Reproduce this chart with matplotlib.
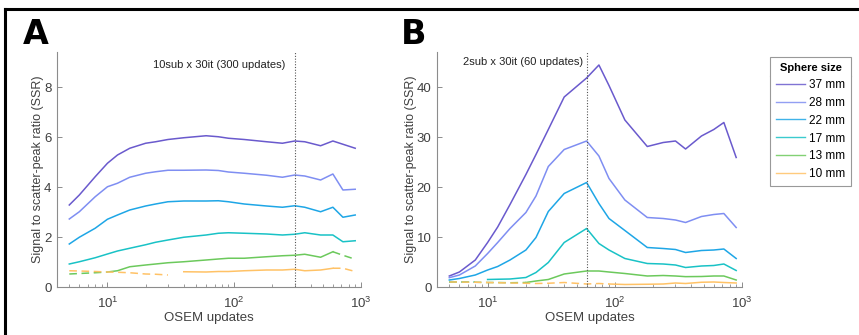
import numpy as np
import matplotlib
matplotlib.use("Agg")
import matplotlib.pyplot as plt
from matplotlib.lines import Line2D

plt.rcParams['font.family'] = ['Liberation Sans', 'DejaVu Sans']

# OSEM updates (x positions of the samples)
updates = [5, 6, 8, 10, 12, 15, 20, 24, 30, 40, 60, 75, 90, 120, 180, 240, 300, 360, 480, 600, 720, 900]
sizes = ["37 mm", "28 mm", "22 mm", "17 mm", "13 mm", "10 mm"]

# panel A: 10 subsets
a_37 = [3.28, 3.68, 4.41, 4.95, 5.28, 5.55, 5.75, 5.81, 5.90, 5.97, 6.05, 6.01, 5.95, 5.90, 5.81, 5.75, 5.84, 5.81, 5.65, 5.84, 5.71, 5.55]
a_28 = [2.72, 3.01, 3.61, 4.01, 4.15, 4.39, 4.55, 4.61, 4.67, 4.67, 4.68, 4.66, 4.60, 4.55, 4.47, 4.39, 4.48, 4.44, 4.28, 4.52, 3.88, 3.91]
a_22 = [1.72, 1.99, 2.35, 2.71, 2.88, 3.08, 3.24, 3.32, 3.41, 3.44, 3.44, 3.45, 3.41, 3.32, 3.24, 3.19, 3.25, 3.19, 3.01, 3.19, 2.79, 2.88]
a_17 = [0.92, 1.01, 1.17, 1.32, 1.44, 1.55, 1.69, 1.79, 1.88, 1.99, 2.08, 2.15, 2.17, 2.15, 2.12, 2.08, 2.11, 2.17, 2.08, 2.08, 1.81, 1.85]
a_13 = [0.52, 0.54, 0.57, 0.60, 0.65, 0.81, 0.88, 0.92, 0.97, 1.01, 1.08, 1.12, 1.15, 1.15, 1.21, 1.25, 1.27, 1.31, 1.19, 1.41, 1.27, 1.11]
a_10 = [0.65, 0.64, 0.62, 0.60, 0.59, 0.57, 0.52, 0.51, 0.48, 0.61, 0.60, 0.62, 0.62, 0.65, 0.68, 0.68, 0.71, 0.65, 0.68, 0.75, 0.75, 0.62]

# panel B: 2 subsets
b_37 = [2.2, 3.0, 5.4, 8.9, 12.0, 16.5, 22.5, 26.5, 31.5, 38.0, 41.8, 44.4, 40.3, 33.4, 28.1, 28.9, 29.2, 27.6, 30.2, 31.5, 32.9, 25.9]
b_28 = [1.87, 2.4, 4.2, 6.7, 8.9, 11.7, 14.9, 18.2, 24.1, 27.5, 29.2, 26.2, 21.7, 17.4, 13.9, 13.7, 13.4, 12.9, 14.1, 14.5, 14.7, 11.9]
b_22 = [1.4, 1.7, 2.4, 3.4, 4.1, 5.4, 7.4, 9.9, 15.1, 18.7, 20.9, 16.7, 13.7, 11.3, 7.9, 7.7, 7.5, 6.9, 7.3, 7.4, 7.6, 5.7]
b_17 = [1.0, 1.0, 1.0, 1.5, 1.55, 1.6, 1.9, 2.9, 4.9, 8.9, 11.7, 8.7, 7.4, 5.7, 4.7, 4.6, 4.4, 3.9, 4.2, 4.3, 4.6, 3.3]
b_13 = [1.0, 1.0, 0.95, 0.9, 0.9, 0.85, 0.9, 1.2, 1.5, 2.6, 3.2, 3.2, 3.0, 2.7, 2.2, 2.3, 2.2, 2.07, 2.1, 2.2, 2.2, 1.4]
b_10 = [1.0, 1.0, 0.95, 0.9, 0.85, 0.8, 0.75, 0.7, 0.75, 0.9, 0.6, 0.7, 0.6, 0.5, 0.55, 0.6, 0.8, 0.7, 0.95, 1.0, 0.9, 0.8]

colors = ["#6a5acd", "#7f8ef2", "#1ea6e6", "#19c2c6", "#6cc95c", "#ffc266"]

# (last index of leading dashed part, first solid index, last solid index)
a_parts = [(0, 0, 21), (0, 0, 21), (0, 0, 21), (0, 0, 21), (3, 3, 19), (8, 9, 19)]
b_parts = [(0, 0, 21), (0, 0, 21), (0, 0, 21), (2, 3, 21), (6, 6, 21), (12, 12, 21)]

W, H = 859, 335
fig = plt.figure(figsize=(W / 100, H / 100), dpi=100)

# frame around the figure (only top and left visible in original)
fig.add_artist(Line2D([4.5 / W, 4.5 / W], [0, 1 - 8.5 / H], color="black", lw=2.2, transform=fig.transFigure))
fig.add_artist(Line2D([4.5 / W, 1], [1 - 8.5 / H, 1 - 8.5 / H], color="black", lw=2.2, transform=fig.transFigure))

axA = fig.add_axes([57 / W, 48 / H, 304 / W, 235 / H])
axB = fig.add_axes([437 / W, 48 / H, 305 / W, 235 / H])

grey = "#8c8c8c"
tcol = "#404040"


def draw_panel(ax, series, parts, ymax, yticks, vline, note, note_dx, note_y):
    x = np.array(updates, dtype=float)
    for vals, col, (h, s, e) in zip(series, colors, parts):
        v = np.array(vals, dtype=float)
        if h > 0:
            ax.plot(x[:h + 1], v[:h + 1], color=col, lw=1.1, ls=(0, (5, 3)))
        ax.plot(x[s:e + 1], v[s:e + 1], color=col, lw=1.1)
        if e < len(x) - 1:
            ax.plot(x[e:], v[e:], color=col, lw=1.1, ls=(0, (5, 3)))
    ax.axvline(vline, color="#555555", lw=0.8, ls=(0, (1, 1.5)))
    ax.set_xscale("log")
    ax.set_xlim(4, 1000)
    ax.set_ylim(0, ymax)
    ax.set_yticks(yticks)
    for sp in ["top", "right"]:
        ax.spines[sp].set_visible(False)
    for sp in ["left", "bottom"]:
        ax.spines[sp].set_color(grey)
        ax.spines[sp].set_linewidth(0.8)
    ax.tick_params(which="both", direction="in", colors=grey, labelcolor=tcol, labelsize=9.5)
    ax.tick_params(which="major", length=3.5, width=0.7)
    ax.tick_params(which="minor", length=2, width=0.6)
    ax.tick_params(axis="x", pad=6)
    ax.tick_params(axis="y", pad=4)
    ax.set_xlabel("OSEM updates", fontsize=9.5, color=tcol)
    ax.set_ylabel("Signal to scatter-peak ratio (SSR)", fontsize=9, color=tcol)
    ax.xaxis.set_label_coords(0.5, -0.105)
    ax.annotate(note, xy=(vline, note_y), xycoords=("data", "axes fraction"),
                xytext=(note_dx, 0), textcoords="offset points",
                ha="right", va="center", fontsize=8, color="#222222")


draw_panel(axA, [a_37, a_28, a_22, a_17, a_13, a_10], a_parts, 9.4, [0, 2, 4, 6, 8],
           300, "10sub x 30it (300 updates)", -7, 0.945)
draw_panel(axB, [b_37, b_28, b_22, b_17, b_13, b_10], b_parts, 47, [0, 10, 20, 30, 40],
           60, "2sub x 30it (60 updates)", -2.5, 0.957)
axA.yaxis.set_label_coords(-0.0625, 0.5)
axB.yaxis.set_label_coords(-0.085, 0.5)
for ax in (axA, axB):
    ax.yaxis.label.set_va("center")

fig.text(23 / W, 1 - 44 / H, "A", fontsize=24, fontweight="bold", family="Liberation Sans Narrow")
fig.text(401 / W, 1 - 44 / H, "B", fontsize=24, fontweight="bold", family="Liberation Sans Narrow")

handles = [Line2D([], [], color=c, lw=1.0, alpha=0.85) for c in colors]
leg = fig.legend(handles, sizes, title="Sphere size", loc="upper left",
                 bbox_to_anchor=(770 / W, 1 - 57 / H), fontsize=8.5,
                 title_fontproperties={"weight": "bold", "size": 8},
                 fancybox=False, edgecolor="#999999", framealpha=1,
                 handlelength=2.5, handletextpad=0.3, labelspacing=0.5,
                 borderpad=0.5, borderaxespad=0)
leg.get_frame().set_linewidth(0.8)

fig.canvas.draw()
lb = leg.get_window_extent()
tb = leg.get_title().get_window_extent()
fig.add_artist(Line2D([lb.x0 / W, lb.x1 / W], [(tb.y0 - 3) / H, (tb.y0 - 3) / H],
                      color="#999999", lw=0.8, transform=fig.transFigure))

fig.savefig("out.png", dpi=100)
